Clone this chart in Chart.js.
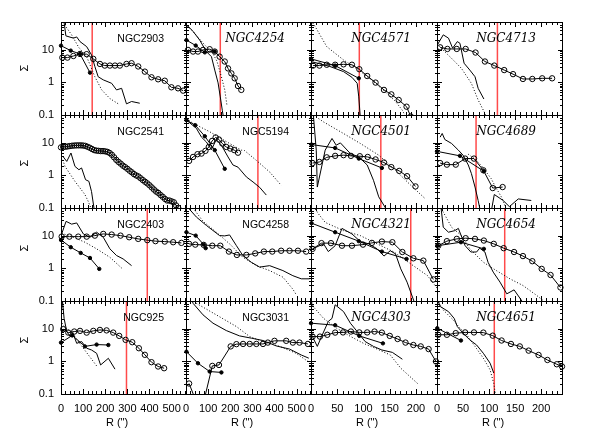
<!DOCTYPE html>
<html>
<head>
<meta charset="utf-8">
<script src="https://cdn.jsdelivr.net/npm/chart.js@4.4.0/dist/chart.umd.min.js"></script>
<style>
  body { margin: 0; background: #fff; }
  #wrap { position: relative; width: 598px; height: 447px; }
  #wrap canvas { position: absolute; left: 0; top: 0; }
</style>
</head>
<body>
<div id="wrap"></div>
<script>
// ---- data: [R (arcsec), Sigma] pairs ----

// row 1
const ngc2903Solid = [[12,90],[22,27],[56,23],[71,25],[86,18],[116,12.6],[138,7],[153,3.1],[168,1.5],[191,1.2],[229,0.94],[251,0.59],[274,0.66],[296,0.22],[319,0.26],[356,0.23]];
const ngc2903Dotted = [[12,90],[17,58],[48,29],[80,12],[116,6.2],[153,1.5],[184,0.59],[221,0.32],[259,0.22]];
const ngc2903Dots = [[0,13.5],[44,9.5],[86,7.5],[131,2.0]];
const ngc2903Rings = [[6,5.8],[29,5.8],[56,6.5],[86,7.5],[116,7.4],[146,5.3],[176,3.7],[198,3.3],[221,3.3],[244,3.3],[266,3.3],[296,3.7],[319,3.9],[349,3.1],[379,2.15],[409,1.44],[439,1.25],[469,1.13],[499,0.71],[529,0.66],[552,0.56]];

const ngc4254Solid = [[2,60],[32,37],[62,20],[92,8.9],[115,6.2],[130,2.4],[145,0.97],[155,0.36],[164,0.14],[170,0.08]];
const ngc4254Dotted = [[5,55],[30,38],[60,22],[90,13],[120,8],[140,4.5],[160,1.5],[175,0.6],[185,0.2]];
const ngc4254Dots = [[2,20],[44,13.6],[85,8.4],[130,8.9]];
const ngc4254Rings = [[9,10],[32,8.9],[54,8.9],[77,10],[107,10.5],[130,8.9],[152,6.2],[175,4.4],[190,2.7],[205,1.9],[220,1.34],[235,0.78],[250,0.59]];

const ngc4571Solid = [[0,4.4],[36,3.1],[62,2.15],[78,1.44],[88,0.94],[91,0.36],[94,0.08]];
const ngc4571Dotted = [[0,80],[8,52],[30,12.6],[62,4.9],[91,2.4],[119,1.06],[145,0.46],[161,0.26],[174,0.14],[180,0.09]];
const ngc4571Dots = [[0,5.3],[46,3.3],[91,1.34]];
const ngc4571Rings = [[4,3.3],[16,3.3],[30,3.5],[46,3.5],[62,3.6],[78,3.5],[92,2.55],[107,1.58],[123,0.99],[139,0.59],[153,0.43],[167,0.29],[182,0.18],[190,0.09]];

const ngc4713Solid = [[2.5,16],[12,29],[22,23],[30,11.3],[39,18],[44,16],[52,3.9],[63,2.4],[73,1.5],[79,0.66],[90,0.31]];
const ngc4713Dotted = [[0,20],[5,12.6],[28,5.5],[47,2.7],[66,0.94],[79,0.29],[89,0.14],[95,0.09]];
const ngc4713Dots = [];
const ngc4713Rings = [[6,12],[20,10.7],[38,10.7],[55,10.7],[74,8.3],[92,4.4],[110,3.3],[129,2.4],[146,1.8],[165,1.28],[183,1.28],[202,1.34],[221,1.34]];

// row 2
const ngc2541Solid = [[8,3.9],[26,2.7],[45,4.9],[63,1.9],[81,1.5],[93,1.7],[111,0.74],[126,0.66],[138,0.32],[150,0.09]];
const ngc2541Dotted = [[8,3.0],[18,1.9],[63,0.66],[108,0.26],[123,0.16],[135,0.1]];
const ngc2541Dots = [];
const ngc2541Rings = [[0,7.3],[10,7.5],[20,7.6],[30,7.8],[40,8.0],[50,8.2],[60,8.3],[70,8.4],[80,8.4],[90,8.4],[100,8.3],[110,8.1],[120,7.6],[130,7.1],[140,6.5],[150,6.0],[160,5.8],[170,5.7],[180,5.6],[190,5.6],[200,5.5],[210,5.3],[220,4.9],[230,4.3],[240,3.6],[250,3.0],[260,2.6],[270,2.3],[280,2.0],[290,1.8],[300,1.6],[310,1.4],[320,1.25],[330,1.1],[340,1.0],[350,0.93],[360,0.82],[370,0.72],[380,0.64],[390,0.57],[400,0.5],[410,0.43],[420,0.37],[430,0.32],[440,0.29],[450,0.25],[460,0.22],[470,0.19],[480,0.17],[490,0.17],[500,0.16],[510,0.15],[520,0.12],[530,0.1]];

const ngc5194Solid = [[2,50],[47,28],[70,15],[92,10.7],[115,6.2],[137,12.7],[160,8.5],[190,3.7],[212,2.1],[235,1.8],[273,0.9],[303,0.63],[333,0.43],[363,0.25]];
const ngc5194Dotted = [[2,55],[32,40],[107,22],[197,9.6],[250,6.0],[265,5.8],[318,2.9],[378,1.28],[430,0.5]];
const ngc5194Dots = [[2,50],[42,35],[85,16],[130,6.0],[175,1.6]];
const ngc5194Rings = [[14,2.8],[32,3.7],[52,4.5],[70,4.7],[88,5.7],[103,7.5],[118,11.5],[134,14.7],[149,12.7],[164,9.6],[182,7.5],[200,6.7],[218,6.0],[235,5.0]];

const ngc4501Solid = [[4,90],[10,6.0],[12,0.44],[27,6.0],[40,13.7],[48,8.5],[56,10],[75,4.7],[91,3.7],[107,2.1],[119,0.71],[129,0.22],[142,0.1],[150,0.07]];
const ngc4501Dotted = [[0,80],[24,44],[62,19.4],[94,9.6],[129,4.2],[158,1.6],[190,0.5],[218,0.19]];
const ngc4501Dots = [[1,8.9],[46,7.0],[91,3.3],[135,1.7]];
const ngc4501Rings = [[3,2.4],[16,2.6],[30,3.6],[46,4.0],[62,4.2],[76,4.0],[93,3.9],[108,3.7],[123,3.1],[139,2.5],[153,1.8],[168,1.38],[183,0.95],[199,0.46]];

const ngc4689Solid = [[6,15],[10,19.5],[15,12.7],[28,9.6],[41,6.0],[50,4.2],[60,2.1],[66,1.15],[73,0.44],[79,0.17],[84,0.07],[102,0.05],[110,0.26],[127,0.17],[139,0.11],[156,0.19],[181,0.17]];
const ngc4689Dotted = [[60,4.5],[75,3.0],[85,2.0],[92,1.44],[104,0.8],[114,0.4],[125,0.2],[132,0.1]];
const ngc4689Dots = [[0,5.5],[44,4.0],[90,1.35]];
const ngc4689Rings = [[6,2.4],[19,2.15],[36,2.15],[54,3.3],[71,3.3],[89,1.44],[107,0.41],[126,0.44]];

// row 3
const ngc2403Solid = [[3,11.5],[23,28],[48,23],[71,25],[101,11.5],[131,9.1],[161,13],[191,9.1],[221,4.0],[251,2.5],[281,1.96],[319,1.22]];
const ngc2403Dotted = [[3,12],[56,9.1],[108,6.4],[161,4.0],[221,2.2],[274,1.03]];
const ngc2403Dots = [[0,7.5],[44,4.5],[89,3.0],[131,2.1],[173,0.97]];
const ngc2403Rings = [[3,9.5],[38,9.5],[78,9.5],[116,9.5],[153,10.2],[191,11.5],[229,11],[269,10.2],[308,9.1],[349,8.1],[390,7.4],[427,6.9],[469,6.7],[507,6.4],[544,6.1]];

const ngc4258Solid = [[0,120],[14,68],[47,38],[92,21],[152,10.2],[175,10],[197,10.7],[228,5.0],[257,2.5],[295,1.55],[333,1.1],[378,1.22],[438,0.86],[483,0.6],[521,0.48],[558,0.48]];
const ngc4258Dotted = [[24,85],[77,28],[137,13],[197,5.7],[257,2.2],[318,1.22],[378,0.86],[438,0.54],[483,0.23],[500,0.15]];
const ngc4258Dots = [[2,13],[44,10.2],[80,5.4],[89,4.2]];
const ngc4258Rings = [[14,5.7],[42,5.4],[80,5.3],[119,5.0],[155,5.0],[194,3.3],[230,2.6],[273,2.6],[313,2.9],[352,3.3],[390,3.3],[430,3.5],[468,3.5],[506,3.5],[543,3.3]];

const ngc4321Solid = [[3,4.0],[24,5.7],[33,3.3],[46,5.0],[59,17],[78,11.5],[94,6.7],[110,5.7],[126,4.0],[139,2.4],[151,3.5],[161,2.8],[171,0.97],[183,0.38],[196,0.1],[200,0.07]];
const ngc4321Dotted = [[5,80],[14,48],[27,26],[62,14.5],[94,10.2],[126,5.7],[158,3.2],[190,1.38],[222,0.6],[240,0.25]];
const ngc4321Dots = [[1,24.6],[46,13],[91,6.9],[135,3.3],[182,1.96]];
const ngc4321Rings = [[3,4.0],[20,6.0],[38,6.0],[59,5.0],[78,5.0],[99,5.4],[116,6.1],[135,6.7],[155,6.4],[174,3.2],[195,2.05],[214,1.74],[233,0.46]];

const ngc4654Solid = [[8,68],[12,18.5],[22,13],[34,14.5],[41,17],[54,5.0],[65,3.2],[76,3.2],[82,4.2],[92,3.2],[98,1.55],[108,0.77],[121,0.38],[134,0.166],[148,0.22],[165,0.09]];
const ngc4654Dotted = [[5,80],[12,54],[28,18.5],[47,10.2],[63,4.0],[89,1.55],[114,0.86],[140,0.48],[165,0.3],[191,0.15],[205,0.1]];
const ngc4654Dots = [[1,5.0],[46,6.4],[90,4.0]];
const ngc4654Rings = [[2.5,5.0],[19,6.9],[38,8.1],[55,8.5],[73,8.1],[90,7.2],[109,5.7],[128,4.2],[148,3.2],[165,2.4],[183,1.67],[201,0.97],[218,0.63],[237,0.26]];

// row 4
const ngc925Solid = [[2,35],[6,80],[14,21],[26,8.3],[41,5.9],[53,7.7],[71,3.6],[93,4.1],[116,2.55],[138,2.25],[161,1.78],[179,0.78],[214,1.25],[244,0.58]];
const ngc925Dotted = [[5,15],[10,13],[56,6.6],[101,2.55],[161,0.73]];
const ngc925Dots = [[0,3.8],[51,6.3],[108,2.9],[161,3.3],[214,3.2]];
const ngc925Rings = [[10,9.8],[33,7.7],[60,8.3],[86,8.7],[116,7.7],[146,8.7],[176,9.3],[206,9.0],[236,7.7],[263,6.1],[292,4.6],[322,3.9],[352,2.55],[379,1.6],[409,0.95],[439,0.7],[466,0.62]];

const ngc3031Solid = [[20,100],[32,61],[77,27],[122,15],[182,8.9],[242,6.1],[295,5.2],[348,4.4],[408,3.0],[468,2.4],[521,1.58],[555,1.26]];
const ngc3031Dotted = [[30,110],[47,61],[137,27],[228,11.8],[288,5.8],[348,4.1],[423,2.9],[498,1.78],[551,1.0]];
const ngc3031Dots = [[2,2.0],[54,0.88],[107,0.49],[160,0.46]];
const ngc3031Rings = [[14,0.21],[50,0.05],[85,0.08],[119,0.73],[149,0.78],[202,2.9],[228,3.4],[258,3.45],[288,3.45],[318,3.45],[348,3.45],[370,3.8],[400,4.3],[453,4.3],[483,3.8],[513,3.8],[551,3.45]];

const ngc4303Solid = [[1,6.6],[12,2.9],[20,5.8],[33,17],[40,21],[46,55],[62,34],[75,15],[88,8.3],[103,4.1],[119,2.9],[135,2.25],[155,1.9],[174,1.17]];
const ngc4303Dotted = [[0,80],[4,49],[24,21],[49,10.5],[75,5.9],[100,3.6],[126,2.4],[151,1.58],[171,0.62],[203,0.21]];
const ngc4303Dots = [[0,15],[46,13],[92,6.1],[137,3.6]];
const ngc4303Rings = [[3,5.8],[17,5.8],[31,6.6],[46,7.7],[61,7.8],[76,8.3],[92,7.8],[107,7.8],[121,8.3],[135,7.7],[150,6.1],[165,4.9],[180,3.8],[195,3.2],[209,2.9],[224,2.4],[238,1.0]];

const ngc4651Solid = [[0,90],[6,49],[22,34],[33,21],[39,11.8],[50,7.4],[63,4.6],[76,3.2],[89,1.78],[102,0.88],[109,0.44]];
const ngc4651Dotted = [[0,80],[12,38],[31,19],[44,10.5],[57,6.6],[73,2.9],[89,1.26],[102,0.55],[109,0.21],[112,0.1]];
const ngc4651Dots = [[0.5,10.5],[46,4.4]];
const ngc4651Rings = [[2.5,6.6],[19,6.6],[36,7.4],[54,7.8],[71,7.8],[89,7.7],[107,6.2],[124,4.4],[142,3.45],[159,2.9],[176,2.15],[195,1.58],[212,1.11],[230,0.82],[240,0.7]];

// panel names (row by row), which ones use the italic serif face, red marker radius (null = none)
const names = ['NGC2903','NGC4254','NGC4571','NGC4713','NGC2541','NGC5194','NGC4501','NGC4689','NGC2403','NGC4258','NGC4321','NGC4654','NGC925','NGC3031','NGC4303','NGC4651'];
const italicNames = ['NGC4254','NGC4571','NGC4713','NGC4501','NGC4689','NGC4321','NGC4654','NGC4303','NGC4651'];
const cuts = [141, 155, 92, 116, null, 325, 133, 75, 390, null, 190, 130, 296, null, null, 110];

// axis ranges and tick labels
const wideMax = 565, narrowMax = 240;
const wideTicks = [0, 100, 200, 300, 400, 500];
const narrowTicks = [0, 50, 100, 150, 200];
const yTicks = [10, 1, 0.1];
const yMin = 0.1, yMax = 72;

const solids = [ngc2903Solid, ngc4254Solid, ngc4571Solid, ngc4713Solid, ngc2541Solid, ngc5194Solid, ngc4501Solid, ngc4689Solid, ngc2403Solid, ngc4258Solid, ngc4321Solid, ngc4654Solid, ngc925Solid, ngc3031Solid, ngc4303Solid, ngc4651Solid];
const dotteds = [ngc2903Dotted, ngc4254Dotted, ngc4571Dotted, ngc4713Dotted, ngc2541Dotted, ngc5194Dotted, ngc4501Dotted, ngc4689Dotted, ngc2403Dotted, ngc4258Dotted, ngc4321Dotted, ngc4654Dotted, ngc925Dotted, ngc3031Dotted, ngc4303Dotted, ngc4651Dotted];
const dotSets = [ngc2903Dots, ngc4254Dots, ngc4571Dots, ngc4713Dots, ngc2541Dots, ngc5194Dots, ngc4501Dots, ngc4689Dots, ngc2403Dots, ngc4258Dots, ngc4321Dots, ngc4654Dots, ngc925Dots, ngc3031Dots, ngc4303Dots, ngc4651Dots];
const ringSets = [ngc2903Rings, ngc4254Rings, ngc4571Rings, ngc4713Rings, ngc2541Rings, ngc5194Rings, ngc4501Rings, ngc4689Rings, ngc2403Rings, ngc4258Rings, ngc4321Rings, ngc4654Rings, ngc925Rings, ngc3031Rings, ngc4303Rings, ngc4651Rings];

// ---- layout of the 4x4 grid (pixels) ----
const colEdges = [61, 186, 311, 437, 562];
const rowEdges = [22, 115, 208, 301, 394];
const sigmaY = [68, 163, 248, 340];
const W = 598, H = 447;
const sans = '"Liberation Sans", Arial, sans-serif';

function pts(arr) {
    return arr.map(p => ({ x: p[0], y: p[1] }));
}

// frame, inward ticks and the text around each panel
function framePlugin(row, col, name, wide) {
    return {
        id: 'frame' + row + col,
        afterDatasetsDraw(chart) {
            const { ctx, chartArea: a, scales } = chart;
            const xs = scales.x, ys = scales.y;
            const xmax = wide ? wideMax : narrowMax;
            const major = wide ? 100 : 50, minor = wide ? 20 : 10;
            ctx.save();
            ctx.strokeStyle = '#000';
            ctx.lineWidth = 1;
            ctx.strokeRect(a.left + 0.5, a.top + 0.5, a.right - a.left, a.bottom - a.top);

            ctx.beginPath();
            for (let v = 0; v <= xmax; v += minor) {
                const px = Math.round(xs.getPixelForValue(v)) + 0.5;
                const len = v % major === 0 ? 5 : 3;
                ctx.moveTo(px, a.bottom); ctx.lineTo(px, a.bottom - len);
                ctx.moveTo(px, a.top); ctx.lineTo(px, a.top + len);
            }
            [0.1, 1, 10].forEach(d => {
                for (let k = 1; k <= 9; k++) {
                    const v = k * d;
                    if (v > yMax) continue;
                    const py = Math.round(ys.getPixelForValue(v)) + 0.5;
                    const len = k === 1 ? 5 : 3;
                    ctx.moveTo(a.left, py); ctx.lineTo(a.left + len, py);
                    ctx.moveTo(a.right + 1, py); ctx.lineTo(a.right + 1 - len, py);
                }
            });
            ctx.stroke();

            // galaxy name
            ctx.fillStyle = '#000';
            ctx.textBaseline = 'middle';
            ctx.textAlign = 'right';
            if (italicNames.includes(name)) {
                ctx.font = 'italic 12px "DejaVu Serif", serif';
                ctx.fillText(name, a.right - 26, a.top + 17);
            } else {
                ctx.font = '10.5px ' + sans;
                ctx.fillText(name, a.right - 22, a.top + 17);
            }

            // left column: y tick labels and Sigma
            if (col === 0) {
                ctx.font = '11px ' + sans;
                ctx.textAlign = 'right';
                yTicks.forEach(v => ctx.fillText(String(v), a.left - 7, ys.getPixelForValue(v)));
                ctx.save();
                ctx.translate(25, sigmaY[row]);
                ctx.rotate(-Math.PI / 2);
                ctx.textAlign = 'center';
                ctx.fillText('Σ', 0, 0);
                ctx.restore();
            }
            // bottom row: x tick labels and axis title
            if (row === 3) {
                ctx.font = '11px ' + sans;
                ctx.textAlign = 'center';
                (wide ? wideTicks : narrowTicks).forEach(v => ctx.fillText(String(v), xs.getPixelForValue(v), a.bottom + 15));
                ctx.fillText('R (")', a.left + 56, a.bottom + 29);
            }
            ctx.restore();
        }
    };
}

const wrap = document.getElementById('wrap');

names.forEach((name, i) => {
    const row = Math.floor(i / 4), col = i % 4;
    const wide = col < 2;
    const canvas = document.createElement('canvas');
    canvas.width = W;
    canvas.height = H;
    wrap.appendChild(canvas);

    const datasets = [
        { data: pts(solids[i]), borderColor: '#000', borderWidth: 1, pointRadius: 0, clip: 0 },
        { data: pts(dotteds[i]), borderColor: '#000', borderWidth: 1, borderDash: [1, 2], pointRadius: 0, clip: 0 },
        { data: pts(dotSets[i]), borderColor: '#000', borderWidth: 1, pointRadius: 1.7, pointBackgroundColor: '#000', pointBorderColor: '#000', clip: { left: 4, right: 4, top: 0, bottom: 0 } },
        { data: pts(ringSets[i]), borderColor: '#000', borderWidth: 1, pointRadius: 2.7, pointBorderWidth: 1, pointBackgroundColor: 'rgba(0,0,0,0)', pointBorderColor: '#000', clip: { left: 4, right: 4, top: 0, bottom: 0 } }
    ];
    if (cuts[i] !== null) {
        datasets.push({ data: [{ x: cuts[i], y: yMin }, { x: cuts[i], y: yMax }], borderColor: '#ff4a4a', borderWidth: 1.5, pointRadius: 0, clip: 0 });
    }

    new Chart(canvas.getContext('2d'), {
        type: 'line',
        data: { datasets: datasets },
        options: {
            responsive: false,
            animation: false,
            devicePixelRatio: 1,
            events: [],
            layout: { padding: { left: colEdges[col], right: W - colEdges[col + 1], top: rowEdges[row], bottom: H - rowEdges[row + 1] } },
            plugins: { legend: { display: false }, tooltip: { enabled: false } },
            scales: {
                x: { type: 'linear', min: 0, max: wide ? wideMax : narrowMax, display: false },
                y: { type: 'logarithmic', min: yMin, max: yMax, display: false }
            }
        },
        plugins: [framePlugin(row, col, name, wide)]
    });
});
</script>
</body>
</html>
